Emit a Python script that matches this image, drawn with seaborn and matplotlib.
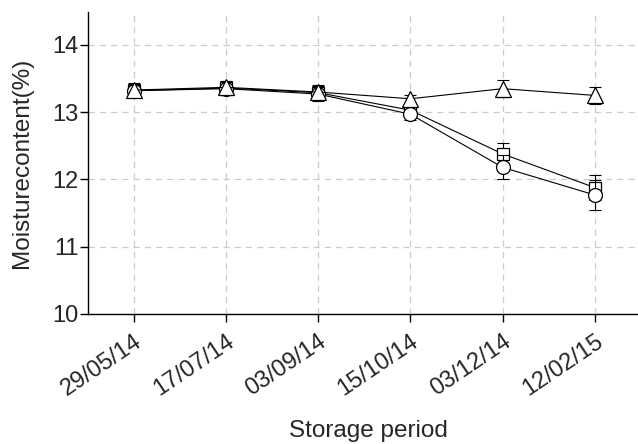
import matplotlib
matplotlib.use("Agg")
import matplotlib.pyplot as plt
import seaborn as sns
import pandas as pd

dates = ["29/05/14", "17/07/14", "03/09/14", "15/10/14", "03/12/14", "12/02/15"]
triangle_vals = [13.33, 13.37, 13.30, 13.20, 13.35, 13.25]
triangle_err = [0.10, 0.10, 0.10, 0.06, 0.13, 0.13]
square_vals = [13.32, 13.36, 13.29, 13.03, 12.38, 11.88]
square_err = [0.10, 0.10, 0.10, 0.06, 0.16, 0.18]
circle_vals = [13.32, 13.35, 13.27, 12.97, 12.18, 11.77]
circle_err = [0.10, 0.10, 0.10, 0.08, 0.18, 0.22]

sns.set_theme(style="white")
plt.rcParams['font.family'] = ['Liberation Sans', 'DejaVu Sans']

# drawn in this order so triangles end up on top
series = [("Square", square_vals, square_err, "s", 9),
          ("Circle", circle_vals, circle_err, "o", 10),
          ("Triangle", triangle_vals, triangle_err, "^", 12)]

rows = []
for name, vals, errs, m, ms in series:
    for i, (d, v) in enumerate(zip(dates, vals)):
        rows.append({"series": name, "x": i, "date": d, "value": v})
df = pd.DataFrame(rows)

fig = plt.figure(figsize=(6.38, 4.44), dpi=100)
ax = fig.add_axes([88/638, 1-314/444, 1-88/638, (314-12)/444])

z = 2
for name, vals, errs, m, ms in series:
    sub = df[df.series == name]
    ax.errorbar(sub["x"], sub["value"], yerr=errs, fmt="none", ecolor="black",
                elinewidth=0.8, capsize=4, capthick=0.8, zorder=z)
    sns.lineplot(data=sub, x="x", y="value", ax=ax, color="black", linewidth=0.8,
                 marker=m, markersize=ms, markerfacecolor="white",
                 markeredgecolor="black", markeredgewidth=0.9, zorder=z + 1)
    z += 2

ax.set_xlim(-0.5, 5.47)
ax.set_ylim(10, 14.49)
ax.set_yticks([10, 11, 12, 13, 14])
ax.set_xticks(range(len(dates)))
ax.set_xticklabels(dates, rotation=34, ha="right", rotation_mode="anchor")
ax.tick_params(axis="both", labelsize=17, length=6, width=1, color="black",
               direction="out", bottom=True, left=True)
ax.tick_params(axis="y", pad=1)
ax.tick_params(axis="x", pad=6)
ax.grid(True, color="#cccccc", linestyle=(0, (5, 4)), linewidth=0.9)
for s in ["top", "right"]:
    ax.spines[s].set_visible(False)
for s in ["left", "bottom"]:
    ax.spines[s].set_color("black")
    ax.spines[s].set_linewidth(1.0)
ax.set_xlabel("Storage period", fontsize=17.5)
ax.set_ylabel("Moisturecontent(%)", fontsize=17.5)
ax.xaxis.set_label_coords((368-88)/550, -(431-314)/302)
ax.xaxis.label.set_va("center")
ax.yaxis.set_label_coords(-(88-22)/550, 0.5)
ax.yaxis.label.set_va("center")

fig.savefig("out.png", dpi=100)
